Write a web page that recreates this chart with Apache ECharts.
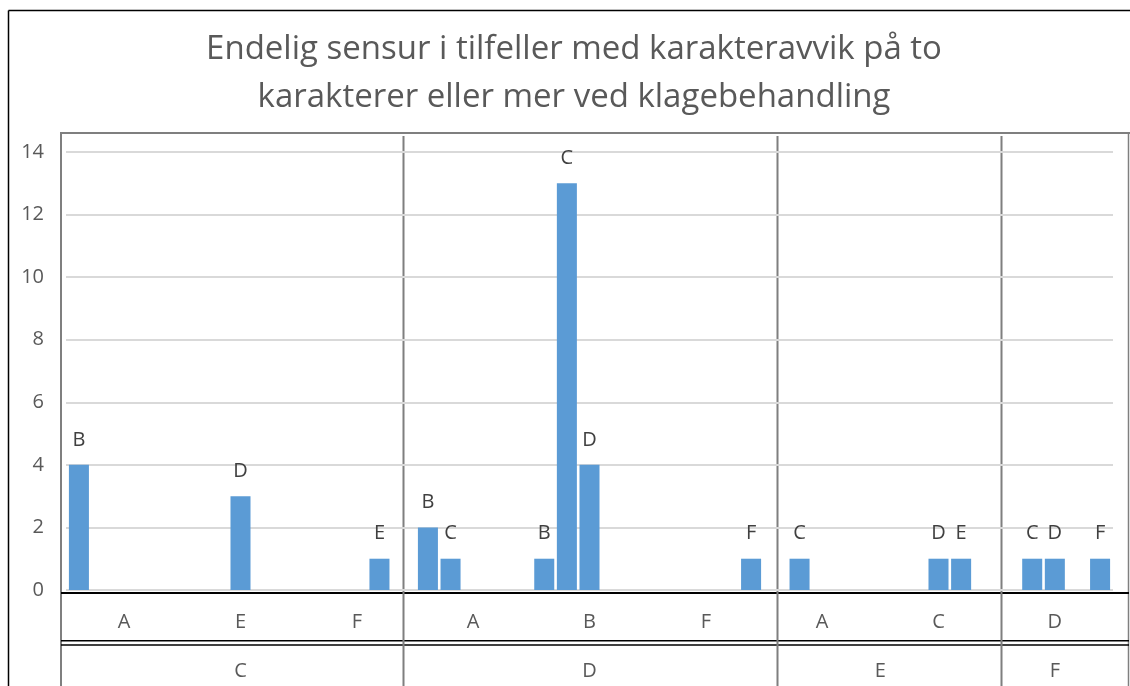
<!DOCTYPE html>
<html>
<head>
<meta charset="utf-8">
<title>Endelig sensur</title>
<script src="https://cdn.jsdelivr.net/npm/echarts@6/dist/echarts.min.js"></script>
<style>
  html, body { margin: 0; padding: 0; background: #fff; }
  #chart { width: 1130px; height: 686px; }
</style>
</head>
<body>
<div id="chart"></div>
<script>
// indre kategorier (karakter ved første sensur) og ytre grupper (opprinnelig karakter)
const innerCats = ['A', 'E', 'F', 'A', 'B', 'F', 'A', 'C', 'D']
const outerCats = ['C', 'D', 'E', 'F']
const outerSizes = [3, 3, 2, 1]

// endelig sensur, én serie per karakter
const seriesNames = ['B', 'C', 'D', 'E', 'F']
const valuesB = [4, null, null, 2, 1, null, null, null, null]
const valuesC = [null, null, null, 1, 13, null, 1, null, 1]
const valuesD = [null, 3, null, null, 4, null, null, 1, 1]
const valuesE = [null, null, 1, null, null, null, null, 1, null]
const valuesF = [null, null, null, null, null, 1, null, null, 1]
const seriesValues = [valuesB, valuesC, valuesD, valuesE, valuesF]

const yTicks = { min: 0, max: 14, interval: 2 }

// midtpunkt for hver ytre gruppe på 0..9-aksen
const outerCenters = []
let acc = 0
outerSizes.forEach(n => { outerCenters.push(acc + n / 2); acc += n })

const FONT = '"Open Sans", "Noto Sans", sans-serif'
const TEXT = '#595959'
const BAR = '#5B9BD5'

const chart = echarts.init(document.getElementById('chart'))

// tabellrammen rundt figuren
const frameGray = '#7f7f7f'
const line = (x1, y1, x2, y2, stroke, lineWidth) => ({
  type: 'line', silent: true,
  shape: { x1, y1, x2, y2 },
  style: { stroke, lineWidth }
})

const option = {
  animation: false,
  backgroundColor: '#fff',
  title: {
    text: 'Endelig sensur i tilfeller med karakteravvik på to\nkarakterer eller mer ved klagebehandling',
    left: 574,
    textAlign: 'center',
    top: 26,
    padding: 0,
    textStyle: { fontFamily: FONT, fontSize: 33, fontWeight: 'normal', color: TEXT, lineHeight: 48 }
  },
  grid: { left: 66, right: 17, top: 152, bottom: 96, containLabel: false },
  xAxis: [
    {
      type: 'category',
      data: innerCats,
      axisLine: { show: false },
      axisTick: { show: false },
      axisLabel: { fontFamily: FONT, fontSize: 20, color: TEXT, margin: 22 }
    },
    {
      type: 'value',
      min: 0,
      max: innerCats.length,
      position: 'bottom',
      axisLine: { show: false },
      axisTick: { show: false },
      splitLine: { show: false },
      axisLabel: {
        customValues: outerCenters,
        fontFamily: FONT, fontSize: 20, color: TEXT, margin: 71,
        formatter: v => outerCats[outerCenters.indexOf(v)] || ''
      }
    }
  ],
  yAxis: {
    type: 'value',
    min: yTicks.min,
    max: yTicks.max,
    interval: yTicks.interval,
    axisLine: { show: false },
    axisTick: { show: false },
    axisLabel: { fontFamily: FONT, fontSize: 20, color: TEXT, margin: 22 },
    splitLine: { lineStyle: { color: '#d9d9d9', width: 2 } }
  },
  series: seriesNames.map((name, i) => ({
    name,
    type: 'bar',
    xAxisIndex: 0,
    data: seriesValues[i],
    barGap: '13%',
    barCategoryGap: '5%',
    itemStyle: { color: BAR },
    label: {
      show: true,
      position: 'top',
      distance: 15,
      formatter: '{a}',
      fontFamily: FONT,
      fontSize: 20,
      color: '#404040'
    }
  })),
  graphic: [
    line(8.5, 10.5, 1135, 10.5, '#000', 1.5),
    line(8.5, 10.5, 8.5, 690, '#000', 1.5),
    line(60, 133, 1130, 133, frameGray, 2),
    line(61, 133, 61, 690, frameGray, 2),
    line(1128.5, 133, 1128.5, 690, frameGray, 1.5),
    line(61, 593, 1129, 593, '#000', 2),
    line(61, 640.7, 1129, 640.7, '#000', 1.5),
    line(61, 645, 1129, 645, '#000', 1.5),
    line(403.5, 136, 403.5, 690, frameGray, 2),
    line(777.5, 136, 777.5, 690, frameGray, 2),
    line(1001.5, 136, 1001.5, 690, frameGray, 2)
  ]
}

chart.setOption(option)
</script>
</body>
</html>
